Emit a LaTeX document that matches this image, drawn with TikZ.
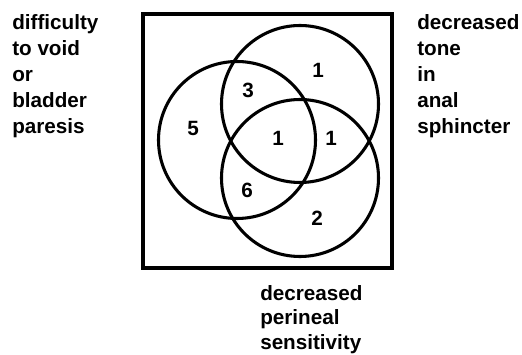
\documentclass[tikz,border=0pt]{standalone}
\usepackage{fontspec}
\setmainfont{Liberation Sans}
\usetikzlibrary{positioning}

\begin{document}
\begin{tikzpicture}[x=0.75pt, y=0.75pt,
    set circle/.style={draw, circle, line width=2.3pt, minimum size=157*0.75pt, inner sep=0pt},
    count node/.style={font=\bfseries\fontsize{15.5}{18}\selectfont, inner sep=0pt},
    side label/.style={font=\bfseries\fontsize{15.5}{19.5}\selectfont, align=left, inner sep=0pt}]
    \useasboundingbox (0,0) rectangle (522,354);

    \node[draw, line width=3pt, minimum width=249*0.75pt, minimum height=254*0.75pt, inner sep=0pt] (frame) at (267.5,213) {};

    \node[set circle] (void) at (237,214) {};
    \node[set circle] (tone) at (300,250) {};
    \node[set circle] (perineal) at (300,176) {};

    \node[count node] (n5) at (193,226) {5};
    \node[count node] (n3) at (248,264) {3};
    \node[count node] (n1a) at (318,284) {1};
    \node[count node] (n1b) at (278,216) {1};
    \node[count node] (n1c) at (331,216) {1};
    \node[count node] (n6) at (247,164) {6};
    \node[count node] (n2) at (317,136) {2};

    \node[side label, anchor=north west] (voidlabel) at (12,340) {difficulty\\to void\\or\\bladder\\paresis};
    \node[side label, anchor=north west] (tonelabel) at (417,340) {decreased\\tone\\in\\anal\\sphincter};
    \node[side label, anchor=north west, font=\bfseries\fontsize{15.5}{18.5}\selectfont] (perineallabel) at (260,69) {decreased\\perineal\\sensitivity};
\end{tikzpicture}
\end{document}
